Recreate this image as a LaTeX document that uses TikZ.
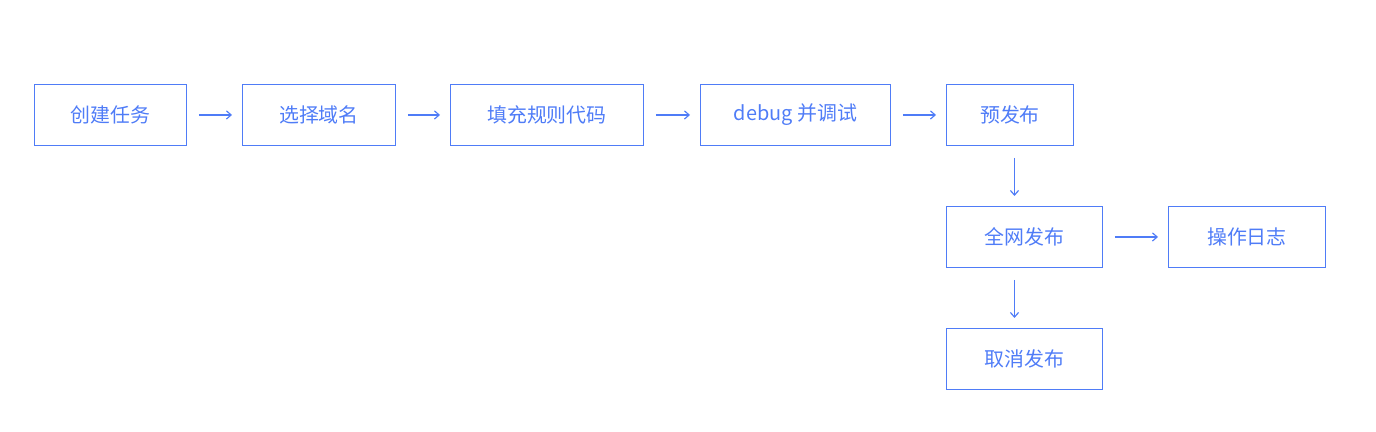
\documentclass[tikz,border=0pt]{standalone}
\usepackage{fontspec}
\newfontfamily\cjk{Noto Sans CJK SC}
\usetikzlibrary{arrows.meta}
\definecolor{flowblue}{HTML}{4F7CF7}
\tikzset{
  stepbox/.style={draw=flowblue, line width=0.8pt, text=flowblue, font=\cjk\fontsize{17}{20}\selectfont, inner sep=0pt, anchor=north west},
  flow/.style={draw=flowblue, line width=1pt, -{Straight Barb[length=4pt,width=7pt]}, shorten <=0.36cm, shorten >=0.3cm}
}
\begin{document}
\begin{tikzpicture}[x=0.03cm,y=-0.03cm]
  \useasboundingbox (0,0) rectangle (1376,432);
  % top row
  \node[stepbox, minimum width=152*0.03cm, minimum height=61*0.03cm] (task) at (34,84) {创建任务};
  \node[stepbox, minimum width=153*0.03cm, minimum height=61*0.03cm] (domain) at (242,84) {选择域名};
  \node[stepbox, minimum width=193*0.03cm, minimum height=61*0.03cm] (rule) at (450,84) {填充规则代码};
  \node[stepbox, minimum width=190*0.03cm, minimum height=61*0.03cm] (debug) at (700,84) {\raisebox{3pt}{debug 并调试}};
  \node[stepbox, minimum width=127*0.03cm, minimum height=61*0.03cm] (pre) at (946,84) {预发布};
  % right column
  \node[stepbox, minimum width=156*0.03cm, minimum height=61*0.03cm] (full) at (946,206) {全网发布};
  \node[stepbox, minimum width=157*0.03cm, minimum height=61*0.03cm] (log) at (1168,206) {操作日志};
  \node[stepbox, minimum width=156*0.03cm, minimum height=61*0.03cm] (cancel) at (946,328) {取消发布};
  \draw[flow] (task) -- (domain);
  \draw[flow] (domain) -- (rule);
  \draw[flow] (rule) -- (debug);
  \draw[flow] (debug) -- (pre);
  \draw[flow] (full) -- (log);
  \draw[flow] ([xshift=0.135cm]pre.south) -- ([xshift=0.135cm]pre.south |- full.north);
  \draw[flow] ([xshift=-0.3cm]full.south) -- ([xshift=-0.3cm]full.south |- cancel.north);
\end{tikzpicture}
\end{document}
